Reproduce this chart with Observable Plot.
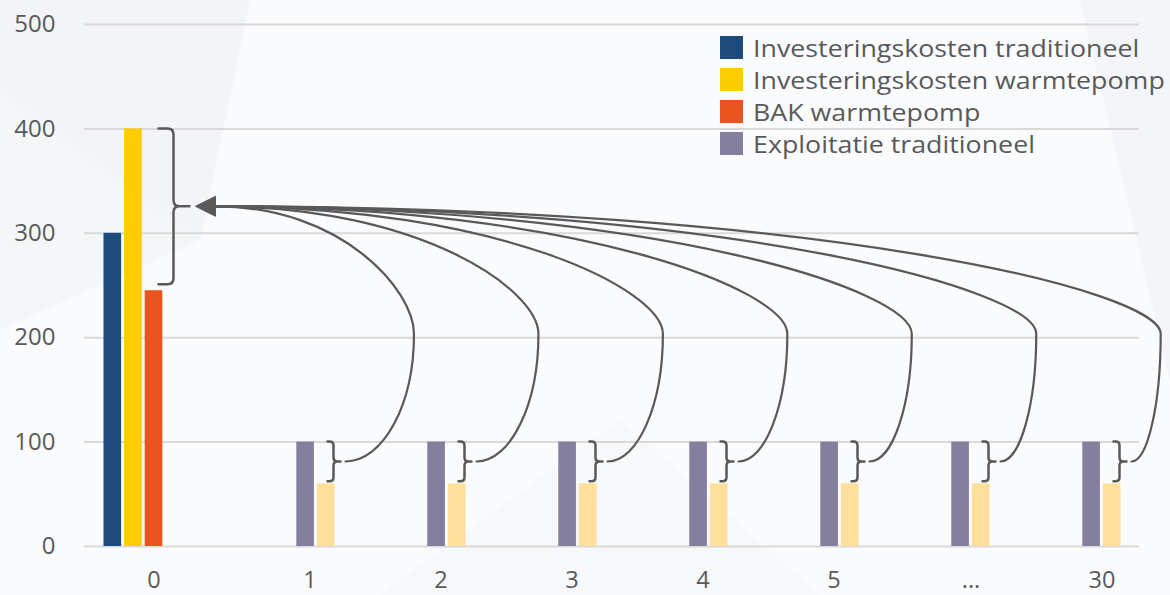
<!DOCTYPE html>
<html>
<head>
<meta charset="utf-8">
<script src="https://cdn.jsdelivr.net/npm/d3@7"></script>
<script src="https://cdn.jsdelivr.net/npm/@observablehq/plot@0.6"></script>
<style>
  html, body { margin: 0; padding: 0; }
  body { width: 1170px; height: 595px; overflow: hidden; position: relative; background: #fafbfc; font-family: "Open Sans", sans-serif; }
  #bg { position: absolute; left: 0; top: 0; }
  #chart { position: absolute; left: 0; top: 0; }
  #legend { position: absolute; left: 720px; top: 31.5px; color: #595959; font-size: 23.5px; line-height: 32px; }
  #legend .row { display: flex; align-items: center; height: 32px; white-space: nowrap; }
  #legend .sw { width: 23px; height: 23px; margin-right: 10px; flex: none; }
  #legend .lab { display: inline-block; transform: scaleX(1.14); transform-origin: left center; }
</style>
</head>
<body>
<svg id="bg" width="1170" height="595">
  <polygon points="0,0 250,0 200,240 0,90" fill="#e9eef3" opacity="0.5"></polygon>
  <polygon points="0,90 200,240 0,330" fill="#eef1f5" opacity="0.45"></polygon>
  <polygon points="1080,0 1170,0 1170,380" fill="#e8edf2" opacity="0.4"></polygon>
  <polygon points="380,595 620,420 820,595" fill="#f1f3f6" opacity="0.3"></polygon>
</svg>
<div id="chart"></div>
<div id="legend"></div>
<script>
// ---------- data ----------
const categories = ["0", "1", "2", "3", "4", "5", "...", "30"];
const yearZeroCategories = ["0"];
const yearCategories = ["1", "2", "3", "4", "5", "...", "30"];

const seriesNames = [
  "Investeringskosten traditioneel",
  "Investeringskosten warmtepomp",
  "BAK warmtepomp",
  "Exploitatie traditioneel",
  "Exploitatie warmtepomp"
];
const seriesColors = ["#1f4a7c", "#ffcc00", "#e8541e", "#857f9f", "#ffdf9c"];
const legendSeries = [0, 1, 2, 3];

const investTraditional = [300];
const investHeatPump = [400];
const bakHeatPump = [245];
const exploitTraditional = [100, 100, 100, 100, 100, 100, 100];
const exploitHeatPump = [60, 60, 60, 60, 60, 60, 60];

const yTicks = [0, 100, 200, 300, 400, 500];

// ---------- layout ----------
const W = 1170, H = 595;
const mL = 84, mR = 31, mT = 24, mB = 49;
const bandW = (W - mL - mR) / categories.length;
const barW = 18.5, slotStep = 20.6;
const inset = (bandW - barW) / 2;
const ink = "#595959";
const tickFont = 24;
const xTickFont = 23.5;

function rowsFor(cats, vals) { return cats.map((c, i) => ({cat: c, value: vals[i]})); }
const seriesRows = [
  rowsFor(yearZeroCategories, investTraditional),
  rowsFor(yearZeroCategories, investHeatPump),
  rowsFor(yearZeroCategories, bakHeatPump),
  rowsFor(yearCategories, exploitTraditional),
  rowsFor(yearCategories, exploitHeatPump)
];

const bars = seriesRows.map((rows, k) => Plot.barY(rows, {
  x: "cat", y: "value", fill: seriesColors[k],
  insetLeft: inset, insetRight: inset, dx: (k - 2) * slotStep
}));

const NS = "http://www.w3.org/2000/svg";
function bracePath(xL, xV, xT, yT, yB, r) {
  const yM = (yT + yB) / 2;
  return `M${xL},${yT}L${xV - r},${yT}Q${xV},${yT} ${xV},${yT + r}L${xV},${yM - r}Q${xV},${yM} ${xV + r},${yM}L${xT},${yM}` +
         `M${xV + r},${yM}Q${xV},${yM} ${xV},${yM + r}L${xV},${yB - r}Q${xV},${yB} ${xV - r},${yB}L${xL},${yB}`;
}

function annotations(index, scales) {
  const x = scales.x, y = scales.y;
  const bw = x.bandwidth ? x.bandwidth() : 0;
  const cx = c => x(c) + bw / 2;
  const g = document.createElementNS(NS, "g");
  const add = (d, attrs) => {
    const p = document.createElementNS(NS, "path");
    p.setAttribute("d", d);
    for (const k in attrs) p.setAttribute(k, attrs[k]);
    g.appendChild(p);
  };
  const lineAttrs = {fill: "none", stroke: ink, "stroke-width": 2.2, "stroke-linecap": "round", "stroke-linejoin": "round"};

  // big brace on year 0
  const c0 = cx(yearZeroCategories[0]);
  const topB = y(investHeatPump[0]);
  const botB = y(bakHeatPump[0]) - 6;
  const midB = (topB + botB) / 2;
  add(bracePath(c0 + 5, c0 + 20, c0 + 36, topB, botB, 6), {...lineAttrs, "stroke-width": 2.5});
  const ax = c0 + 62;

  // small braces + curves
  yearCategories.forEach((c, i) => {
    const cc = cx(c);
    const t = y(exploitTraditional[i]);
    const b = y(exploitHeatPump[i]) - 2;
    add(bracePath(cc + 43, cc + 49, cc + 56, t, b, 4), {...lineAttrs, "stroke-width": 2.5});
    const x0 = cc + 61, y0 = (t + b) / 2;
    const x3 = ax, y3 = midB;
    const bulge = Math.max(26, 75 - 0.05 * (x0 - x3));
    const xv = x0 + bulge, yv = (y0 + y3) / 2;
    const rx = xv - x3, ryU = yv - y3, ryL = y0 - yv;
    const d = `M${x0},${y0}C${x0 + 0.552 * bulge},${y0} ${xv},${yv + 0.552 * ryL} ${xv},${yv}` +
              `C${xv},${yv - 0.34 * ryU} ${x3 + 0.64 * rx},${y3} ${x3},${y3}`;
    add(d, lineAttrs);
  });

  // arrow head
  add(`M${c0 + 42},${midB}L${ax},${midB - 10}L${ax},${midB + 10}Z`, {fill: ink, stroke: ink, "stroke-width": 1, "stroke-linejoin": "round"});
  return g;
}

const xAxisOpts = {tickSize: 0, tickPadding: 25, label: null, fill: ink, fontSize: xTickFont};
const chart = Plot.plot({
  width: W, height: H,
  marginLeft: mL, marginRight: mR, marginTop: mT, marginBottom: mB,
  style: {background: "transparent", fontFamily: '"Open Sans", sans-serif', fontSize: tickFont + "px", color: ink, overflow: "visible"},
  x: {type: "band", domain: categories, padding: 0, label: null},
  y: {domain: [0, 500], label: null},
  marks: [
    Plot.gridY(yTicks, {stroke: "#d9d9d9", strokeOpacity: 1, strokeWidth: 2}),
    ...bars,
    annotations,
    Plot.axisY(yTicks, {tickSize: 0, tickPadding: 29, label: null, fill: ink, fontSize: tickFont}),
    Plot.axisX(["0"], {...xAxisOpts}),
    Plot.axisX(["1", "2", "3", "4", "5"], {...xAxisOpts, dx: 25}),
    Plot.axisX(["...", "30"], {...xAxisOpts, dx: 31})
  ]
});
document.getElementById("chart").appendChild(chart);

// legend
const legend = document.getElementById("legend");
legendSeries.forEach(k => {
  const row = document.createElement("div");
  row.className = "row";
  const sw = document.createElement("span");
  sw.className = "sw";
  sw.style.background = seriesColors[k];
  const label = document.createElement("span");
  label.className = "lab";
  label.textContent = seriesNames[k];
  row.appendChild(sw);
  row.appendChild(label);
  legend.appendChild(row);
});
</script>
</body>
</html>
